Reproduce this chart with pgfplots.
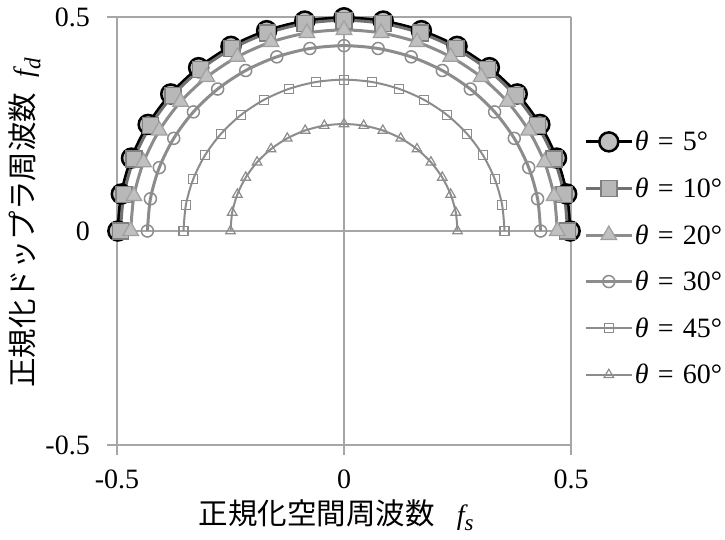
\documentclass[border=0pt]{standalone}
\usepackage{pgfplots}
\pgfplotsset{compat=1.18}
\usepackage{fontspec}
\setmainfont{Liberation Serif}
\newfontfamily\jp{Noto Sans CJK JP}
\definecolor{gridc}{HTML}{A6A6A6}
\definecolor{c10line}{HTML}{707070}
\definecolor{c10edge}{HTML}{808080}
\definecolor{c10fill}{HTML}{B8B8B8}
\definecolor{c20line}{HTML}{8C8C8C}
\definecolor{c20edge}{HTML}{A0A0A0}
\definecolor{c20fill}{HTML}{C0C0C0}
\definecolor{cgray}{HTML}{8C8C8C}
\definecolor{c5fill}{HTML}{BFBFBF}

\pgfplotstableread{
x y
0.4981 0
0.4905 0.0865
0.4681 0.1704
0.4314 0.2490
0.3816 0.3202
0.3202 0.3816
0.2490 0.4314
0.1704 0.4681
0.0865 0.4905
0 0.4981
-0.0865 0.4905
-0.1704 0.4681
-0.2490 0.4314
-0.3202 0.3816
-0.3816 0.3202
-0.4314 0.2490
-0.4681 0.1704
-0.4905 0.0865
-0.4981 0
}\tfive

\pgfplotstableread{
x y
0.4924 0
0.4849 0.0855
0.4627 0.1684
0.4264 0.2462
0.3772 0.3165
0.3165 0.3772
0.2462 0.4264
0.1684 0.4627
0.0855 0.4849
0 0.4924
-0.0855 0.4849
-0.1684 0.4627
-0.2462 0.4264
-0.3165 0.3772
-0.3772 0.3165
-0.4264 0.2462
-0.4627 0.1684
-0.4849 0.0855
-0.4924 0
}\tten

\pgfplotstableread{
x y
0.4698 0
0.4627 0.0816
0.4415 0.1607
0.4069 0.2349
0.3599 0.3020
0.3020 0.3599
0.2349 0.4069
0.1607 0.4415
0.0816 0.4627
0 0.4698
-0.0816 0.4627
-0.1607 0.4415
-0.2349 0.4069
-0.3020 0.3599
-0.3599 0.3020
-0.4069 0.2349
-0.4415 0.1607
-0.4627 0.0816
-0.4698 0
}\ttwenty

\pgfplotstableread{
x y
0.4330 0
0.4264 0.0752
0.4069 0.1481
0.3750 0.2165
0.3317 0.2783
0.2783 0.3317
0.2165 0.3750
0.1481 0.4069
0.0752 0.4264
0 0.4330
-0.0752 0.4264
-0.1481 0.4069
-0.2165 0.3750
-0.2783 0.3317
-0.3317 0.2783
-0.3750 0.2165
-0.4069 0.1481
-0.4264 0.0752
-0.4330 0
}\tthirty

\pgfplotstableread{
x y
0.3536 0
0.3482 0.0614
0.3322 0.1209
0.3062 0.1768
0.2708 0.2273
0.2273 0.2708
0.1768 0.3062
0.1209 0.3322
0.0614 0.3482
0 0.3536
-0.0614 0.3482
-0.1209 0.3322
-0.1768 0.3062
-0.2273 0.2708
-0.2708 0.2273
-0.3062 0.1768
-0.3322 0.1209
-0.3482 0.0614
-0.3536 0
}\tfortyfive

\pgfplotstableread{
x y
0.2500 0
0.2462 0.0434
0.2349 0.0855
0.2165 0.1250
0.1915 0.1607
0.1607 0.1915
0.1250 0.2165
0.0855 0.2349
0.0434 0.2462
0 0.2500
-0.0434 0.2462
-0.0855 0.2349
-0.1250 0.2165
-0.1607 0.1915
-0.1915 0.1607
-0.2165 0.1250
-0.2349 0.0855
-0.2462 0.0434
-0.2500 0
}\tsixty

\newcommand{\leg}[1]{{\itshape θ}\hspace{0.33em}=\hspace{0.33em}#1°}
\newcommand{\tl}[1]{\fontsize{28bp}{32bp}\selectfont #1}
\newcommand{\fsub}[1]{{\fontsize{28bp}{32bp}\selectfont\itshape f}\raisebox{-0.22em}{\fontsize{23bp}{25bp}\selectfont\itshape #1}}

\begin{document}
\begin{tikzpicture}
\begin{axis}[
  name=ax,
  scale only axis,
  width=454bp, height=428bp,
  xmin=-0.5, xmax=0.5, ymin=-0.5, ymax=0.5,
  xtick={-0.5,0,0.5}, ytick={-0.5,0,0.5},
  xticklabels={\tl{-0.5},\tl{0},\tl{0.5}}, yticklabels={\tl{-0.5},\tl{0},\tl{0.5}},
  axis x line=bottom, axis y line=left,
  axis line style={gridc, line width=1.2bp, -},
  grid=major,
  grid style={gridc, line width=1.2bp},
  tick align=outside,
  major tick length=10bp,
  tick style={gridc, line width=1.2bp},
  yticklabel style={inner sep=0pt, anchor=east, xshift=-17bp},
  xticklabel style={inner sep=0pt, anchor=north, yshift=-15bp},
  xlabel={{\jp 正規化空間周波数}\hspace{22bp}\fsub{s}},
  ylabel={{\jp 正規化ドップラ周波数}\hspace{15bp}\fsub{d}},
  label style={font=\fontsize{29.5bp}{32bp}\selectfont},
  xlabel style={at={(axis description cs:0.483,-0.164)}, anchor=center},
  ylabel style={at={(axis description cs:-0.203,0.519)}, anchor=center},
  legend style={at={(1.03,0.738)}, anchor=north west, draw=none, fill=none,
    inner sep=0pt, font=\fontsize{28bp}{32bp}\selectfont, row sep=21.5bp,
    nodes={inner sep=2bp}},
  legend cell align=left,
  legend image code/.code={\draw[mark repeat=2,mark phase=2,#1] plot coordinates {(0bp,0bp) (22.5bp,0bp) (45bp,0bp)};},
]
\addplot[smooth, black, line width=3bp, mark=*, mark size=9.5bp,
  mark options={solid, fill=c5fill, draw=black, line width=2.5bp}] table {\tfive};
\addlegendentry{\leg{5}}
\addplot[smooth, c10line, line width=3bp, mark=square*, mark size=8bp,
  mark options={solid, fill=c10fill, draw=c10edge, line width=1.5bp}] table {\tten};
\addlegendentry{\leg{10}}
\addplot[smooth, c20line, line width=3bp, mark=triangle*, mark size=9bp,
  mark options={solid, fill=c20fill, draw=c20edge, line width=1.2bp}] table {\ttwenty};
\addlegendentry{\leg{20}}
\addplot[smooth, cgray, line width=3bp, mark=o, mark size=6bp,
  mark options={solid, fill=white, draw=cgray, line width=1.5bp}] table {\tthirty};
\addlegendentry{\leg{30}}
\addplot[smooth, cgray, line width=2bp, mark=square, mark size=4.5bp,
  mark options={solid, fill=white, draw=cgray, line width=1.2bp}] table {\tfortyfive};
\addlegendentry{\leg{45}}
\addplot[smooth, cgray, line width=2bp, mark=triangle, mark size=5.5bp,
  mark options={solid, fill=white, draw=cgray, line width=1.2bp}] table {\tsixty};
\addlegendentry{\leg{60}}
\end{axis}
\pgfresetboundingbox
\path[use as bounding box] ([shift={(-117bp,-94bp)}]ax.south west) rectangle ([shift={(154bp,17bp)}]ax.north east);
\end{tikzpicture}
\end{document}
